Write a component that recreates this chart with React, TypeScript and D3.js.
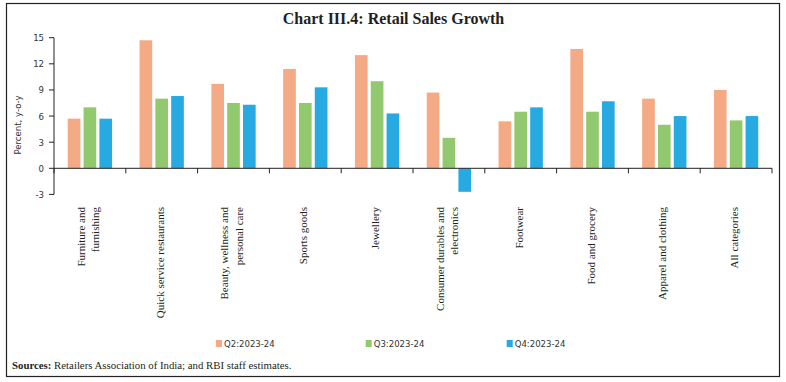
import React from "react";
import * as d3 from "d3";

const categories: string[][] = [
  ["Furniture and", "furnishing"],
  ["Quick service restaurants"],
  ["Beauty, wellness and", "personal care"],
  ["Sports goods"],
  ["Jewellery"],
  ["Consumer durables and", "electronics"],
  ["Footwear"],
  ["Food and grocery"],
  ["Apparel and clothing"],
  ["All categories"],
];
const seriesNames = ["Q2:2023-24", "Q3:2023-24", "Q4:2023-24"];
const q2 = [5.7, 14.7, 9.7, 11.4, 13.0, 8.7, 5.4, 13.7, 8.0, 9.0];
const q3 = [7.0, 8.0, 7.5, 7.5, 10.0, 3.5, 6.5, 6.5, 5.0, 5.5];
const q4 = [5.7, 8.3, 7.3, 9.3, 6.3, -2.7, 7.0, 7.7, 6.0, 6.0];
const yTicks = [-3, 0, 3, 6, 9, 12, 15];
const colors = ["#F4AA84", "#92C86E", "#27AAE1"];

export default function App() {
  const W = 786, H = 382;
  const left = 54, right = 772, top = 37.7, zeroY = 168.3;
  const y = d3.scaleLinear().domain([0, 15]).range([zeroY, top]);
  const keys = categories.map((_, i) => String(i));
  const x = d3.scaleBand().domain(keys).range([left, right]).padding(0);
  const inner = d3.scaleBand().domain(["0", "1", "2"]).range([0, 44.3]).paddingInner(0.2);
  const series = [q2, q3, q4];
  const groupOffset = (x.bandwidth() - 44.3) / 2;
  const sans = "'DejaVu Sans Condensed', 'Liberation Sans Narrow', 'Liberation Sans', sans-serif";
  const serif = "'Liberation Serif', 'DejaVu Serif', serif";
  const tickXs = d3.range(categories.length + 1).map((i) => left + i * x.step());
  const legendX = [216, 365.7, 506.7];

  return (
    <svg width={W} height={H} style={{ position: "absolute", left: 0, top: 0 }}>
      <rect x={6.5} y={3.5} width={773} height={373} fill="white" stroke="#222" strokeWidth={1.2} />
      <text x={393.5} y={24} textAnchor="middle" fontFamily={serif} fontWeight="bold" fontSize={16} fill="#231f20">
        Chart III.4: Retail Sales Growth
      </text>
      {series.map((vals, si) =>
        vals.map((v, ci) => {
          const bx = (x(String(ci)) as number) + groupOffset + (inner(String(si)) as number);
          const y0 = y(Math.max(0, v));
          const y1 = y(Math.min(0, v));
          return <rect key={si + "-" + ci} x={bx} y={y0} width={inner.bandwidth()} height={y1 - y0} fill={colors[si]} />;
        })
      )}
      <line x1={left} x2={left} y1={y(15)} y2={y(-3)} stroke="#222" strokeWidth={1} />
      {yTicks.map((t) => (
        <g key={t}>
          <line x1={left - 5} x2={left} y1={y(t)} y2={y(t)} stroke="#222" />
          <text x={left - 10} y={y(t) + 3.5} textAnchor="end" fontFamily={sans} fontSize={9.5} fill="#333">
            {t}
          </text>
        </g>
      ))}
      <text transform={`translate(21,${(y(0) + y(15)) / 2 + 22}) rotate(-90)`} textAnchor="middle" fontFamily={sans} fontSize={9.5} fill="#333">
        Percent, y-o-y
      </text>
      <line x1={left} x2={right} y1={zeroY} y2={zeroY} stroke="#222" strokeWidth={1} />
      {tickXs.map((tx, i) => (
        <line key={i} x1={tx} x2={tx} y1={zeroY} y2={zeroY + 5} stroke="#222" />
      ))}
      {categories.map((lines, ci) => {
        const cx = (x(String(ci)) as number) + x.bandwidth() / 2 - 2;
        const n = lines.length;
        return lines.map((ln, li) => {
          const lx = cx + (li - (n - 1) / 2) * 14.5 + 4;
          return (
            <text key={ci + "-" + li} transform={`translate(${lx},207) rotate(-90)`} textAnchor="end" fontFamily={serif} fontSize={11} fill="#231f20">
              {ln}
            </text>
          );
        });
      })}
      {seriesNames.map((s, i) => (
        <g key={s}>
          <rect x={legendX[i]} y={340} width={6} height={7} fill={colors[i]} />
          <text x={legendX[i] + 8} y={347} fontFamily={sans} fontSize={9.5} fill="#333">
            {s}
          </text>
        </g>
      ))}
      <text x={12} y={369} fontFamily={serif} fontSize={10.8} fill="#231f20">
        <tspan fontWeight="bold">Sources:</tspan> Retailers Association of India; and RBI staff estimates.
      </text>
    </svg>
  );
}
